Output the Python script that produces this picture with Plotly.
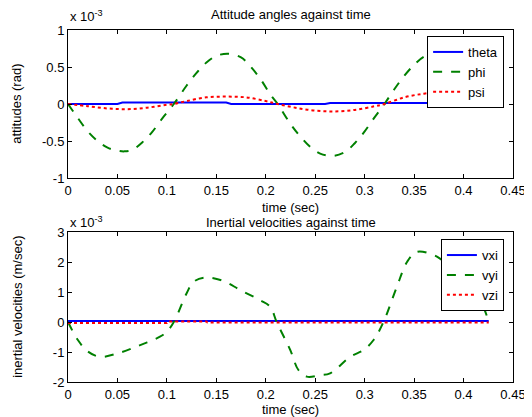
import plotly.graph_objects as go

# ---- data (values in units of 1e-3) ----
t_phi = [0, 0.01, 0.02, 0.03, 0.04, 0.05, 0.057, 0.065, 0.075, 0.085, 0.095, 0.107,
         0.12, 0.13, 0.14, 0.15, 0.162, 0.175, 0.185, 0.195, 0.205, 0.212,
         0.225, 0.235, 0.245, 0.255, 0.268, 0.28, 0.29, 0.30, 0.31, 0.32,
         0.33, 0.34, 0.35, 0.36, 0.373, 0.385, 0.395, 0.405, 0.415, 0.425]
phi = [0, -0.19, -0.37, -0.5, -0.59, -0.63, -0.64, -0.62, -0.52, -0.38, -0.2, 0,
       0.25, 0.42, 0.56, 0.65, 0.68, 0.63, 0.5, 0.33, 0.12, 0,
       -0.27, -0.44, -0.58, -0.67, -0.70, -0.65, -0.53, -0.37, -0.18, 0,
       0.2, 0.38, 0.53, 0.64, 0.70, 0.66, 0.55, 0.4, 0.22, 0]

t_psi = [0, 0.02, 0.04, 0.06, 0.08, 0.1, 0.107, 0.12, 0.14, 0.16, 0.18, 0.2, 0.212,
         0.23, 0.25, 0.27, 0.29, 0.31, 0.32, 0.34, 0.36, 0.375, 0.39, 0.41, 0.425]
psi = [0, -0.03, -0.06, -0.07, -0.05, -0.01, 0, 0.04, 0.09, 0.1, 0.09, 0.04, 0,
       -0.05, -0.09, -0.1, -0.08, -0.03, 0, 0.09, 0.14, 0.16, 0.15, 0.1, 0]

t_theta = [0, 0.05, 0.055, 0.16, 0.165, 0.26, 0.265, 0.37, 0.375, 0.425]
theta = [0, 0, 0.02, 0.02, 0, 0, 0.015, 0.015, 0, 0]

t_vyi = [0, 0.01, 0.02, 0.0324, 0.0526, 0.073, 0.093, 0.1, 0.107, 0.12, 0.127, 0.1387,
         0.157, 0.174, 0.194, 0.2045, 0.211, 0.2247, 0.233, 0.2415, 0.255, 0.265,
         0.2854, 0.299, 0.309, 0.319, 0.3326, 0.343, 0.353, 0.37, 0.378, 0.39,
         0.40, 0.412, 0.42, 0.4255]
vyi = [0, -0.6, -0.98, -1.16, -1.02, -0.77, -0.49, -0.32, 0, 0.96, 1.34, 1.48,
       1.37, 1.07, 0.73, 0.51, 0, -0.93, -1.6, -1.82, -1.77, -1.71,
       -1.16, -0.93, -0.6, 0, 1.18, 2.01, 2.34, 2.23, 2.07, 1.75,
       1.45, 0.96, 0.51, 0]

t_vxi = [0, 0.4255]
vxi = [0.03, 0.03]

t_vzi = [0, 0.1, 0.101, 0.14, 0.141, 0.4255]
vzi = [-0.03, -0.03, 0.02, 0.02, -0.02, -0.02]

xticks = [0, 0.05, 0.1, 0.15, 0.2, 0.25, 0.3, 0.35, 0.4, 0.45]
xlabels = ["0", "0.05", "0.1", "0.15", "0.2", "0.25", "0.3", "0.35", "0.4", "0.45"]
y1ticks = [-1, -0.5, 0, 0.5, 1]
y1labels = ["-1", "-0.5", "0", "0.5", "1"]
y2ticks = [-2, -1, 0, 1, 2, 3]
y2labels = ["-2", "-1", "0", "1", "2", "3"]

BLUE, GREEN, RED = "rgb(0,0,255)", "rgb(0,128,0)", "rgb(255,0,0)"
FONT = "Liberation Sans, Arial, sans-serif"
FS = 13

fig = go.Figure()
fig.add_trace(go.Scatter(x=t_theta, y=theta, name="theta", mode="lines",
                         line=dict(color=BLUE, width=2), xaxis="x", yaxis="y", legend="legend"))
fig.add_trace(go.Scatter(x=t_phi, y=phi, name="phi", mode="lines",
                         line=dict(color=GREEN, width=2, dash="dash", shape="spline"),
                         xaxis="x", yaxis="y", legend="legend"))
fig.add_trace(go.Scatter(x=t_psi, y=psi, name="psi", mode="lines",
                         line=dict(color=RED, width=2, dash="dot", shape="spline"),
                         xaxis="x", yaxis="y", legend="legend"))
fig.add_trace(go.Scatter(x=t_vxi, y=vxi, name="vxi", mode="lines",
                         line=dict(color=BLUE, width=2), xaxis="x2", yaxis="y2", legend="legend2"))
fig.add_trace(go.Scatter(x=t_vyi, y=vyi, name="vyi", mode="lines",
                         line=dict(color=GREEN, width=2, dash="dash", shape="spline"),
                         xaxis="x2", yaxis="y2", legend="legend2"))
fig.add_trace(go.Scatter(x=t_vzi, y=vzi, name="vzi", mode="lines",
                         line=dict(color=RED, width=2, dash="dot"),
                         xaxis="x2", yaxis="y2", legend="legend2"))

axis_common = dict(showgrid=False, zeroline=False, showline=True, linecolor="black",
                   linewidth=1, mirror="ticks", ticks="inside", ticklen=4,
                   tickcolor="black", automargin=False,
                   tickfont=dict(size=FS, color="black", family=FONT))


def ann(text, x, y, xa="center", ya="middle", angle=0):
    return dict(text=text, x=x, y=y, xref="paper", yref="paper", xanchor=xa, yanchor=ya,
                showarrow=False, textangle=angle, font=dict(size=FS, family=FONT, color="black"))


# The page body adds an 8px offset, so the figure is 8px smaller than the window.
fig.update_layout(
    width=524, height=409,
    margin=dict(l=60, r=19, t=22, b=35, autoexpand=False),
    paper_bgcolor="white", plot_bgcolor="white",
    font=dict(family=FONT, size=FS, color="black"),
    xaxis=dict(domain=[0, 1], range=[0, 0.45], tickvals=xticks, ticktext=xlabels,
               anchor="y", **axis_common),
    yaxis=dict(domain=[0.5795, 1], range=[-1, 1], tickvals=y1ticks, ticktext=y1labels,
               anchor="x", **axis_common),
    xaxis2=dict(domain=[0, 1], range=[0, 0.45], tickvals=xticks, ticktext=xlabels,
                anchor="y2", **axis_common),
    yaxis2=dict(domain=[0, 0.426], range=[-2, 3], tickvals=y2ticks, ticktext=y2labels,
                anchor="x2", **axis_common),
    legend=dict(x=0.807, y=0.983, xanchor="left", yanchor="top", xref="paper", yref="paper",
                bgcolor="white", bordercolor="black", borderwidth=1,
                font=dict(size=FS, family=FONT), tracegroupgap=0, itemwidth=30),
    legend2=dict(x=0.838, y=0.406, xanchor="left", yanchor="top", xref="paper", yref="paper",
                 bgcolor="white", bordercolor="black", borderwidth=1,
                 font=dict(size=FS, family=FONT), tracegroupgap=0, itemwidth=30),
    showlegend=True,
    annotations=[
        ann("Attitude angles against time", 0.5, 1.045),
        ann("Inertial velocities against time", 0.5, 0.4545),
        ann("x 10<sup>-3</sup>", 0.0, 1.04, xa="left"),
        ann("x 10<sup>-3</sup>", 0.0, 0.455, xa="left"),
        ann("time (sec)", 0.5, 0.497),
        ann("time (sec)", 0.5, -0.078),
        ann("attitudes (rad)", -0.115, 0.79, angle=-90),
        ann("inertial velocities (m/sec)", -0.115, 0.213, angle=-90),
    ],
)

fig.write_html("out.html")
